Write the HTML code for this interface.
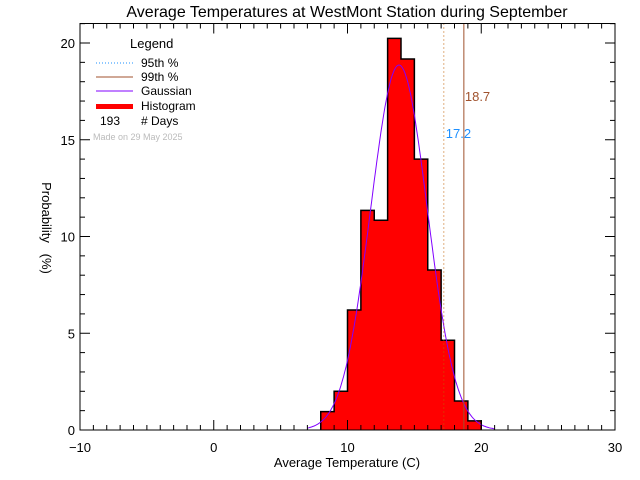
<!DOCTYPE html>
<html><head><meta charset="utf-8"><style>
body{margin:0;background:#fff;}
svg{display:block;font-family:"Liberation Sans","DejaVu Sans",sans-serif;}
</style></head><body>
<svg id="c" width="640" height="480">
<text x="347" y="17" font-size="16" text-anchor="middle">Average Temperatures at WestMont Station during September</text>
<text x="347" y="467" font-size="13" text-anchor="middle">Average Temperature (C)</text>
<text transform="translate(42,228) rotate(90)" font-size="13" text-anchor="middle" xml:space="preserve">Probability   (%)</text>
<g id="plot"></g>
<g>
<text x="130" y="48" font-size="13">Legend</text>
<line x1="96" y1="63" x2="133" y2="63" stroke="#1e90ff" stroke-dasharray="1,2"/>
<text x="141" y="67" font-size="12">95th %</text>
<line x1="96" y1="77" x2="133" y2="77" stroke="#a0522d"/>
<text x="141" y="81" font-size="12">99th %</text>
<line x1="96" y1="91" x2="133" y2="91" stroke="#8000ff"/>
<text x="141" y="95" font-size="12">Gaussian</text>
<rect x="96" y="104" width="37" height="5" fill="#f00"/>
<text x="141" y="110" font-size="12">Histogram</text>
<text x="100" y="125" font-size="12">193</text>
<text x="141" y="125" font-size="12"># Days</text>
<text x="93" y="140" font-size="9" fill="#bbb">Made on 29 May 2025</text>
</g>
</svg>
<script>
const binStarts=[8,9,10,11,12,13,14,15,16,17,18,19];
const binValues=[0.95,2.0,6.2,11.35,10.84,20.24,19.17,14.0,8.27,4.64,1.5,0.47];
const gaussMean=13.85, gaussSigma=2.115;
const p95=17.2, p99=18.7;
const xTicks=[-10,0,10,20,30];
const yTicks=[0,5,10,15,20];
const L=80,R=615,T=23.5,B=430;
const X=v=>L+(v+10)*(R-L)/40;
const Y=v=>B-v*19.35;
const NS="http://www.w3.org/2000/svg";
const g=document.getElementById('plot');
function mk(t,a){const e=document.createElementNS(NS,t);for(const k in a)e.setAttribute(k,a[k]);g.appendChild(e);return e;}
// bars (single filled step path)
let d="M"+X(binStarts[0])+","+B;
binStarts.forEach((s,i)=>{
 d+=" L"+X(s)+","+Y(binValues[i])+" L"+X(s+1)+","+Y(binValues[i]);
});
d+=" L"+X(binStarts[binStarts.length-1]+1)+","+B;
const fill=mk('path',{d:d+" Z",fill:'#f00',stroke:'none'});


const out=mk('path',{d:d,fill:'none',stroke:'#000','stroke-width':1.5});


// gaussian
let gp="";
for(let v=7;v<=21.001;v+=0.1){const p=100/(gaussSigma*Math.sqrt(2*Math.PI))*Math.exp(-0.5*((v-gaussMean)/gaussSigma)**2);gp+=(gp?" L":"M")+X(v).toFixed(1)+","+Y(p).toFixed(1);}
const ga=mk('path',{d:gp,fill:'none',stroke:'#8000ff','stroke-width':1});


// percentile lines
const l95=mk('line',{x1:X(p95),x2:X(p95),y1:T,y2:B,stroke:'#c06000','stroke-dasharray':'1,3'});


const l99=mk('line',{x1:X(p99),x2:X(p99),y1:T,y2:B,stroke:'#a0522d'});


const t95=mk('text',{x:X(p95)+2,y:138,'font-size':13,fill:'#1e90ff'});t95.textContent=p95.toFixed(1);


const t99=mk('text',{x:X(p99)+1,y:101,'font-size':13,fill:'#a0522d'});t99.textContent=p99.toFixed(1);


// frame
const fr=mk('rect',{x:L,y:T,width:R-L,height:B-T,fill:'none',stroke:'#000'});


// ticks
for(let v=-10;v<=30;v++){const len=(v%10===0)?10:5;
 mk('line',{x1:X(v),x2:X(v),y1:B,y2:B-len,stroke:'#000'});
 mk('line',{x1:X(v),x2:X(v),y1:T,y2:T+len,stroke:'#000'});}
for(let v=0;v<=21;v++){const len=(v%5===0)?10:5;
 mk('line',{x1:L,x2:L+len,y1:Y(v),y2:Y(v),stroke:'#000'});
 mk('line',{x1:R,x2:R-len,y1:Y(v),y2:Y(v),stroke:'#000'});}
xTicks.forEach(v=>{const t=mk('text',{x:X(v),y:452,'font-size':13,'text-anchor':'middle'});t.textContent=v<0?'\u2212'+(-v):v;
 
 });
yTicks.forEach(v=>{const t=mk('text',{x:75,y:Y(v)+5,'font-size':13,'text-anchor':'end'});t.textContent=v;
 
 });
</script>
</body></html>
